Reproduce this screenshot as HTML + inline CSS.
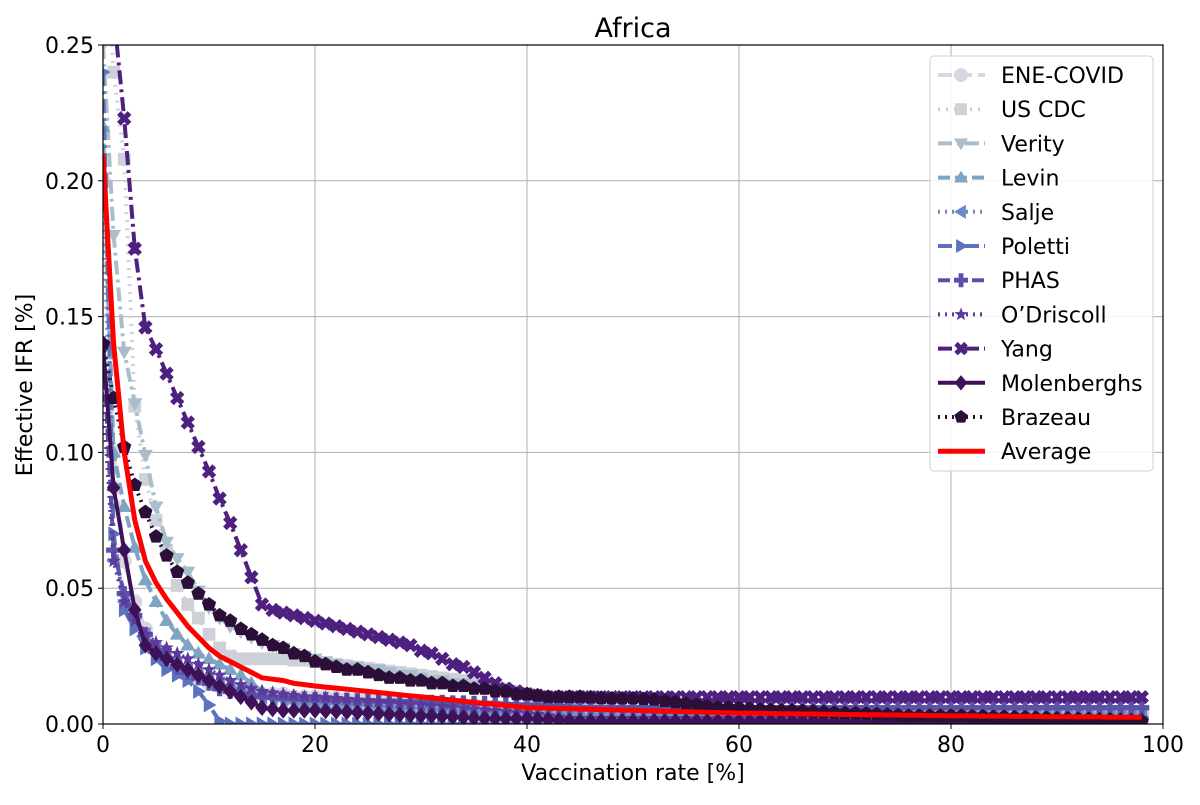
<!DOCTYPE html>
<html><head><meta charset="utf-8"><style>
body{margin:0;background:#fff}
svg text{font-family:"DejaVu Sans","Liberation Sans",sans-serif;fill:#000}
</style></head><body>
<svg id="c" width="1200" height="800">
<defs><clipPath id="clip"><rect x="103" y="45" width="1060" height="679"/></clipPath></defs>
<g id="grid"></g>
<g id="series" clip-path="url(#clip)"></g>
<g id="axes"></g>
<g id="legend"></g>
</svg>
<script>
const xTicks=[0,20,40,60,80,100];
const yTicks=[0,0.05,0.10,0.15,0.20,0.25];
const yTickLabels=["0.00","0.05","0.10","0.15","0.20","0.25"];
const names=["ENE-COVID","US CDC","Verity","Levin","Salje","Poletti","PHAS","O\u2019Driscoll","Yang","Molenberghs","Brazeau","Average"];
const vEne=[0.200,0.100,0.060,0.045,0.035,0.028,0.024,0.021,0.019,0.017,0.015,0.014,0.013,0.012,0.012,0.011,0.011,0.011,0.010,0.010,0.010,0.010,0.0095,0.009,0.009,0.009,0.0085,0.0085,0.008,0.008,0.008,0.0075,0.0075,0.007,0.007,0.007,0.0065,0.0065,0.006,0.006,0.006,0.0055,0.0055,0.005,0.005,0.005,0.0045,0.0045,0.0045,0.0045].concat(Array(49).fill(0.004));
const vCdc=[0.300,0.240,0.208,0.117,0.090,0.075,0.064,0.051,0.044,0.039,0.033,0.028,0.025,0.024,0.024,0.024,0.024,0.024,0.0235,0.0235,0.023,0.0225,0.022,0.0215,0.021,0.0205,0.020,0.0195,0.019,0.0185,0.018,0.0175,0.017,0.0165,0.016,0.015,0.0145,0.014,0.013,0.012,0.011,0.010,0.009,0.008,0.007,0.006,0.005,0.0045,0.004,0.0035].concat(Array(49).fill(0.0035));
const vVerity=[0.250,0.180,0.137,0.118,0.099,0.080,0.067,0.061,0.056,0.049,0.043,0.039,0.036,0.034,0.032,0.030,0.029,0.028,0.026,0.025,0.024,0.023,0.022,0.021,0.021,0.020,0.020,0.019,0.018,0.018,0.017,0.016,0.016,0.015,0.015,0.014,0.013,0.013,0.012,0.011,0.010,0.009,0.009,0.008,0.007,0.007,0.006,0.006,0.005,0.005,0.005].concat(Array(48).fill(0.004));
const vLevin=[0.220,0.100,0.080,0.065,0.053,0.045,0.038,0.033,0.029,0.026,0.024,0.022,0.020,0.018,0.015,0.012,0.011,0.010,0.009,0.008,0.007,0.007,0.0065,0.0065,0.006,0.006,0.006,0.0055,0.0055,0.0055,0.005,0.005,0.005,0.005,0.0048,0.0048,0.0046,0.0046,0.0044,0.0042].concat(Array(59).fill(0.004));
const vSalje=[0.200,0.060,0.045,0.038,0.033,0.028,0.025,0.022,0.020,0.018,0.016,0.015,0.014,0.013,0.012,0.010,0.0095,0.009,0.0085,0.008,0.008,0.0078,0.0076,0.0074,0.0072,0.007,0.0068,0.0066,0.0064,0.0062,0.006,0.0058,0.0056,0.0054,0.0052,0.005,0.0048,0.0046,0.0044,0.0042,0.004].concat(Array(58).fill(0.003));
const vPoletti=[0.240,0.070,0.042,0.035,0.028,0.024,0.020,0.018,0.016,0.012,0.007,0.001].concat(Array(87).fill(0.0));
const vPhas=[0.140,0.064,0.048,0.040,0.033,0.027,0.024,0.021,0.019,0.017,0.015,0.013,0.012,0.011,0.0105,0.010,0.0098,0.0096,0.0094,0.0092,0.009,0.009,0.0088,0.0088,0.0086,0.0086,0.0084,0.0084,0.0082,0.0082,0.008,0.008,0.008,0.0078,0.0078,0.0076,0.0076,0.0074,0.0072,0.007,0.007,0.0068,0.0066,0.0064,0.0062,0.006].concat(Array(53).fill(0.006));
const vOdris=[0.120,0.060,0.045,0.038,0.033,0.030,0.028,0.026,0.024,0.022,0.020,0.018,0.016,0.0145,0.013,0.012,0.0115,0.011,0.0105,0.010,0.010,0.0097,0.0094,0.0091,0.0088,0.0085,0.0082,0.0079,0.0076,0.0073,0.007,0.0067,0.0064,0.0061,0.0058,0.0055,0.0052,0.0049,0.0046,0.0043,0.004,0.0035,0.003,0.0025].concat(Array(55).fill(0.002));
const vYang=[0.300,0.262,0.223,0.175,0.146,0.138,0.129,0.120,0.111,0.102,0.093,0.083,0.074,0.064,0.054,0.044,0.042,0.041,0.040,0.039,0.038,0.037,0.036,0.035,0.034,0.033,0.032,0.031,0.030,0.029,0.027,0.026,0.024,0.022,0.021,0.019,0.017,0.015,0.013,0.012,0.011,0.0105].concat(Array(57).fill(0.0099));
const vMolen=[0.140,0.087,0.064,0.042,0.029,0.026,0.024,0.022,0.020,0.018,0.016,0.014,0.012,0.010,0.008,0.006,0.0055,0.005,0.005,0.005,0.005,0.0048,0.0046,0.0044,0.0042,0.004,0.0038,0.0036,0.0034,0.0032,0.003,0.003,0.0028,0.0026,0.0024,0.0022,0.002,0.002,0.002,0.002,0.002,0.0018,0.0016,0.0014,0.0012].concat(Array(54).fill(0.001));
const vBraz=[0.140,0.120,0.102,0.088,0.078,0.069,0.062,0.056,0.052,0.048,0.044,0.040,0.038,0.035,0.033,0.031,0.029,0.028,0.026,0.025,0.023,0.022,0.021,0.020,0.020,0.019,0.018,0.017,0.017,0.016,0.016,0.015,0.015,0.014,0.014,0.013,0.013,0.012,0.012,0.011,0.011,0.0105,0.010,0.010,0.010,0.010,0.0098,0.0096,0.0094,0.0094,0.0094,0.0092,0.009,0.0085,0.008,0.0075,0.007,0.0065,0.006,0.006,0.0058,0.0056,0.0054,0.0052,0.005,0.005,0.0048,0.0046,0.0044,0.0042,0.004,0.004,0.0038,0.0036,0.0034,0.0032,0.003,0.003,0.003,0.003,0.003,0.003,0.0028,0.0028,0.0026,0.0026,0.0024,0.0024,0.0022,0.0022,0.002,0.002,0.0018,0.0018,0.0016,0.0016,0.0014,0.0012,0.001];
const vAvg=[0.210,0.140,0.100,0.075,0.060,0.052,0.046,0.041,0.036,0.032,0.028,0.025,0.023,0.021,0.019,0.017,0.0165,0.016,0.015,0.0145,0.014,0.0136,0.0132,0.0128,0.0124,0.012,0.0116,0.0112,0.0108,0.0104,0.010,0.0096,0.0092,0.0088,0.0084,0.008,0.0076,0.0072,0.0068,0.0064,0.006,0.0059,0.0058,0.0057,0.0056,0.0055,0.0054,0.0053,0.0052,0.0051,0.005,0.0049,0.0048,0.0047,0.0046,0.0045,0.0044,0.0043,0.0042,0.0041,0.004,0.004,0.0039,0.0039,0.0038,0.0038,0.0037,0.0037,0.0036,0.0036,0.0035,0.0035,0.0034,0.0034,0.0033,0.0033,0.0032,0.0032,0.0031,0.0031,0.003,0.003,0.003,0.0029,0.0029,0.0029,0.0028,0.0028,0.0028,0.0027,0.0027,0.0027,0.0026,0.0026,0.0026,0.0025,0.0025,0.0025,0.0025];
const seriesVals=[vEne,vCdc,vVerity,vLevin,vSalje,vPoletti,vPhas,vOdris,vYang,vMolen,vBraz,vAvg];
const colors=["#ddd4e1","#cdd1d8","#a8bfcb","#7fa4c3","#6a8ac3","#5d72bd","#5b52a8","#5b3a9b","#4e2080","#3d1258","#2c0f38","#ff0000"];
const dashes=["14,6","2,6","14,5,3,5","12,5","2,5","14,5,3,5","12,5","2,5","14,5,3,5","","2,5",""];
const markers=["circle","square","tdown","tup","tleft","tright","plus","star","x","diamond","pent",null];

const NS="http://www.w3.org/2000/svg";
const X0=103,X1=1163,Y0=724,Y1=45;
const sx=v=>X0+(v/100)*(X1-X0);
const sy=v=>Y0-(v/0.25)*(Y0-Y1);
function mk(tag,attrs,parent){const e=document.createElementNS(NS,tag);for(const k in attrs)e.setAttribute(k,attrs[k]);parent.appendChild(e);return e;}
function markerShape(type,x,y,r,color,parent){
  let pts=[];
  const poly=p=>mk("polygon",{points:p.map(q=>(x+q[0])+","+(y+q[1])).join(" "),fill:color},parent);
  if(type==="circle")return mk("circle",{cx:x,cy:y,r:r,fill:color},parent);
  if(type==="square")return mk("rect",{x:x-r*0.85,y:y-r*0.85,width:r*1.7,height:r*1.7,fill:color},parent);
  if(type==="tdown")return poly([[-r,-r*0.7],[r,-r*0.7],[0,r]]);
  if(type==="tup")return poly([[-r,r*0.7],[r,r*0.7],[0,-r]]);
  if(type==="tleft")return poly([[r*0.7,-r],[r*0.7,r],[-r,0]]);
  if(type==="tright")return poly([[-r*0.7,-r],[-r*0.7,r],[r,0]]);
  if(type==="diamond")return poly([[0,-r*1.1],[r*0.9,0],[0,r*1.1],[-r*0.9,0]]);
  if(type==="plus"){const a=r*0.35;return poly([[-a,-r],[a,-r],[a,-a],[r,-a],[r,a],[a,a],[a,r],[-a,r],[-a,a],[-r,a],[-r,-a],[-a,-a]]);}
  if(type==="x"){const a=r*0.35;const base=[[-a,-r],[a,-r],[a,-a],[r,-a],[r,a],[a,a],[a,r],[-a,r],[-a,a],[-r,a],[-r,-a],[-a,-a]];const c=Math.SQRT1_2;return poly(base.map(q=>[(q[0]-q[1])*c,(q[0]+q[1])*c]));}
  if(type==="star"){for(let i=0;i<10;i++){const rr=i%2?r*0.42:r;const a=-Math.PI/2+i*Math.PI/5;pts.push([rr*Math.cos(a),rr*Math.sin(a)]);}return poly(pts);}
  if(type==="pent"){for(let i=0;i<5;i++){const a=-Math.PI/2+i*2*Math.PI/5;pts.push([r*Math.cos(a),r*Math.sin(a)]);}return poly(pts);}
}
const grid=document.getElementById("grid"),axes=document.getElementById("axes"),sg=document.getElementById("series"),lg=document.getElementById("legend");
xTicks.forEach(t=>{
  const l=mk("line",{x1:sx(t),x2:sx(t),y1:Y1,y2:Y0,stroke:"#b0b0b0","stroke-width":1},grid);
  
  
  const tk=mk("line",{x1:sx(t),x2:sx(t),y1:Y0,y2:Y0+5,stroke:"#000","stroke-width":1},axes);
  
  
  const tx=mk("text",{x:sx(t),y:Y0+28,"text-anchor":"middle","font-size":22},axes);tx.textContent=t;
  
  
});
yTicks.forEach((t,i)=>{
  const l=mk("line",{x1:X0,x2:X1,y1:sy(t),y2:sy(t),stroke:"#b0b0b0","stroke-width":1},grid);
  
  
  const tk=mk("line",{x1:X0-5,x2:X0,y1:sy(t),y2:sy(t),stroke:"#000","stroke-width":1},axes);
  
  
  const tx=mk("text",{x:X0-9,y:sy(t)+8,"text-anchor":"end","font-size":22},axes);tx.textContent=yTickLabels[i];
  
  
});
const frame=mk("rect",{x:X0,y:Y1,width:X1-X0,height:Y0-Y1,fill:"none",stroke:"#000","stroke-width":1.2},axes);


const title=mk("text",{x:633,y:37,"text-anchor":"middle","font-size":27},axes);title.textContent="Africa";


const xl=mk("text",{x:633,y:780,"text-anchor":"middle","font-size":22},axes);xl.textContent="Vaccination rate [%]";


const yl=mk("text",{x:32,y:385,"text-anchor":"middle","font-size":22,transform:"rotate(-90 32 385)"},axes);yl.textContent="Effective IFR [%]";



seriesVals.forEach((vals,si)=>{
  const g=mk("g",{},sg);
  
  
  const d=vals.map((v,i)=>(i?"L":"M")+sx(i).toFixed(1)+","+sy(v).toFixed(1)).join("");
  const p=mk("path",{d:d,fill:"none",stroke:colors[si],"stroke-width":si===11?5:4,"stroke-linejoin":"round"},g);
  if(dashes[si])p.setAttribute("stroke-dasharray",dashes[si]);
  
  
  if(markers[si])vals.forEach((v,i)=>{
    const m=markerShape(markers[si],sx(i),sy(v),7.5,colors[si],g);
    
    
  });
});
const lb=mk("rect",{x:930,y:56,width:223,height:415,rx:4,fill:"#fff","fill-opacity":0.85,stroke:"#d0d0d0"},lg);


names.forEach((n,i)=>{
  const y=75+i*34.2;
  const g=mk("g",{},lg);
  
  
  const l=mk("line",{x1:938,x2:985,y1:y,y2:y,stroke:colors[i],"stroke-width":i===11?5:4},g);
  if(dashes[i])l.setAttribute("stroke-dasharray",dashes[i]);
  if(markers[i])markerShape(markers[i],961,y,7,colors[i],g);
  const t=mk("text",{x:1001,y:y+8,"font-size":22},g);t.textContent=n;
});
</script>
</body></html>
